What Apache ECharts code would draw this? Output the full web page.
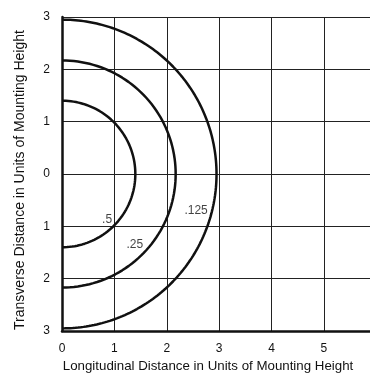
<!DOCTYPE html>
<html><head><meta charset="utf-8">
<script src="https://cdn.jsdelivr.net/npm/echarts@6/dist/echarts.min.js"></script>
<style>html,body{margin:0;padding:0;background:#fff}#c{width:370px;height:373px}</style>
</head><body><div id="c"></div>
<script>
// Iso-footcandle curves (fraction of max) with their radii in mounting heights
const curveNames = ['.5', '.25', '.125'];
const curveRadii = [1.40, 2.17, 2.95];
// label anchor points (x, y) in axis units
const labelX = [0.86, 1.39, 2.56];
const labelY = [-0.87, -1.35, -0.71];
const xTicks = [0, 1, 2, 3, 4, 5];
const yTicks = [-3, -2, -1, 0, 1, 2, 3];

const FONT = '"Liberation Sans", Arial, sans-serif';

function arc(r) {
  const pts = [];
  for (let i = 0; i <= 180; i++) {
    const a = -Math.PI / 2 + Math.PI * i / 180;
    pts.push([r * Math.cos(a), r * Math.sin(a)]);
  }
  return pts;
}

const series = curveRadii.map((r, i) => ({
  type: 'line', name: curveNames[i], data: arc(r), showSymbol: false,
  lineStyle: {color: '#111', width: 2.5}, silent: true, animation: false, clip: false
}));
series.push({
  type: 'scatter', symbolSize: 0, animation: false, silent: true,
  data: curveNames.map((n, i) => ({value: [labelX[i], labelY[i]], name: n})),
  label: {show: true, position: 'inside', formatter: p => p.name, color: '#111', fontSize: 12, fontFamily: FONT}
});

const chart = echarts.init(document.getElementById('c'));
chart.setOption({
  animation: false,
  grid: {left: 62, right: 0, top: 17, bottom: 42, containLabel: false, outerBoundsMode: 'none'},
  xAxis: {
    type: 'value', min: 0, max: 5.88, interval: 1,
    name: 'Longitudinal Distance in Units of Mounting Height',
    nameLocation: 'middle', nameGap: 27,
    nameTextStyle: {fontSize: 13.3, color: '#111', fontFamily: FONT, padding: [0, 16, 0, 0]},
    axisLine: {show: true, onZero: false, lineStyle: {color: '#111', width: 2.5}},
    axisTick: {show: false},
    axisLabel: {color: '#111', fontSize: 12, fontFamily: FONT, margin: 12,
      formatter: v => xTicks.includes(v) ? String(v) : '', showMaxLabel: false},
    splitLine: {show: true, lineStyle: {color: '#222', width: 1}}
  },
  yAxis: {
    type: 'value', min: -3, max: 3, interval: 1,
    name: 'Transverse Distance in Units of Mounting Height',
    nameLocation: 'middle', nameGap: 35, nameRotate: 90,
    nameTextStyle: {fontSize: 14, color: '#111', fontFamily: FONT, padding: [0, 12, 0, 0]},
    axisLine: {show: true, onZero: false, lineStyle: {color: '#111', width: 2.5}},
    axisTick: {show: false},
    axisLabel: {color: '#111', fontSize: 12, fontFamily: FONT, margin: 12,
      formatter: v => yTicks.includes(v) ? String(Math.abs(v)) : ''},
    splitLine: {show: true, lineStyle: {color: '#222', width: 1}}
  },
  series: series
});
</script></body></html>
